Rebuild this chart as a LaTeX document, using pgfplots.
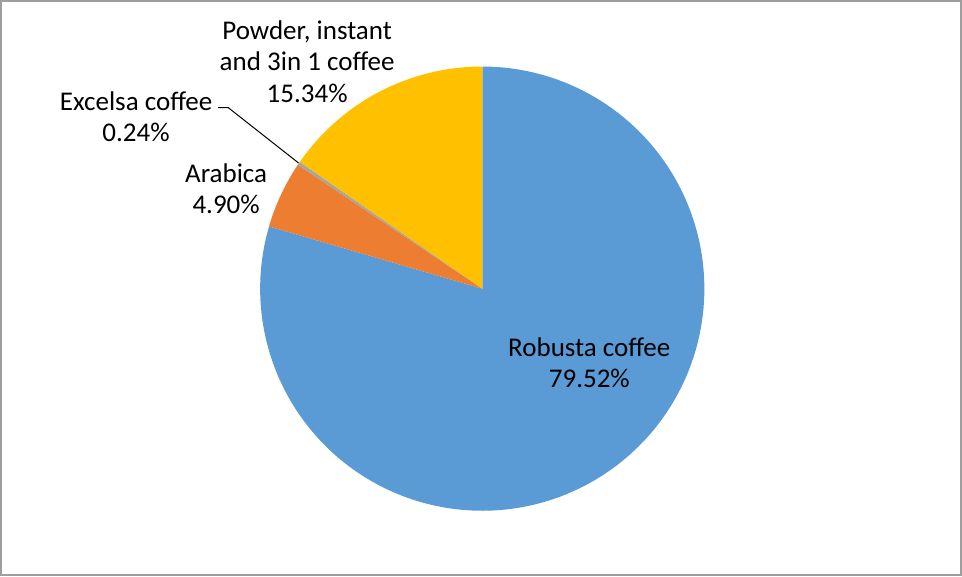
\documentclass[border=0pt]{standalone}
\usepackage{pgfplots}
\pgfplotsset{compat=1.18}
\usepackage{fontspec}
\setmainfont{Carlito}
\definecolor{cRob}{HTML}{5B9BD5}
\definecolor{cAra}{HTML}{ED7D31}
\definecolor{cExc}{HTML}{A5A5A5}
\definecolor{cPow}{HTML}{FFC000}
% data (percent)
\def\vRob{79.52}
\def\vAra{4.90}
\def\vExc{0.24}
\def\vPow{15.34}
\pgfmathsetmacro{\aA}{90}
\pgfmathsetmacro{\aB}{\aA-3.6*\vRob}
\pgfmathsetmacro{\aC}{\aB-3.6*\vAra}
\pgfmathsetmacro{\aD}{\aC-3.6*\vExc}
\pgfmathsetmacro{\aE}{\aD-3.6*\vPow}
\begin{document}
\begin{tikzpicture}
\begin{axis}[
  scale only axis, width=481pt, height=288pt,
  xmin=0, xmax=962, ymin=0, ymax=576,
  hide axis, clip=false,
]
\draw[color=black!38, line width=1pt] (axis cs:1,1.5) rectangle (axis cs:960.5,575.5);
\addplot[fill=cRob, draw=none, domain=\aB:\aA, samples=200] ({482+222*cos(x)},{288+222*sin(x)}) -- (axis cs:482,288) -- cycle;
\addplot[fill=cAra, draw=none, domain=\aC:\aB, samples=30] ({482+222*cos(x)},{288+222*sin(x)}) -- (axis cs:482,288) -- cycle;
\addplot[fill=cExc, draw=none, domain=\aD:\aC, samples=5] ({482+222*cos(x)},{288+222*sin(x)}) -- (axis cs:482,288) -- cycle;
\addplot[fill=cPow, draw=none, domain=\aE:\aD, samples=60] ({482+222*cos(x)},{288+222*sin(x)}) -- (axis cs:482,288) -- cycle;
\draw[black, line width=0.5pt] (axis cs:218,469) -- (axis cs:228,469) -- (axis cs:298.5,413.5);
\tikzset{lab/.style={align=center, font=\fontsize{13.5}{15.8}\selectfont, inner sep=0pt}}
\node[lab] at (axis cs:307,515) {Powder, instant\\and 3in 1 coffee\\15.34\%};
\node[lab] at (axis cs:136,460) {Excelsa coffee\\0.24\%};
\node[lab] at (axis cs:226,388) {Arabica\\4.90\%};
\node[lab] at (axis cs:589,214) {Robusta coffee\\79.52\%};
\end{axis}
\end{tikzpicture}
\end{document}
